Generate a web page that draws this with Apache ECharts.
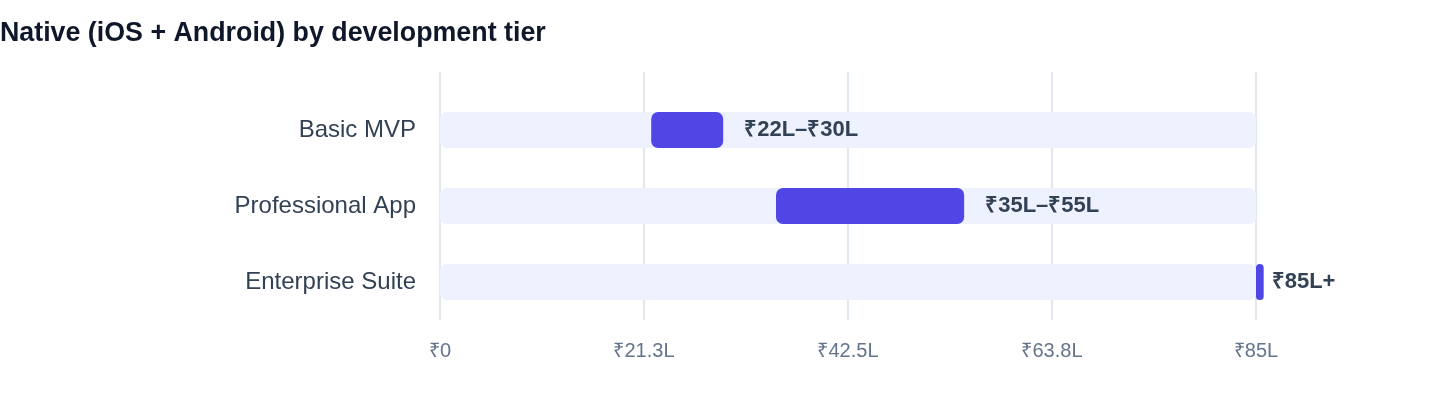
<!DOCTYPE html>
<html>
<head>
<meta charset="utf-8">
<script src="https://cdn.jsdelivr.net/npm/echarts@6/dist/echarts.min.js"></script>
<style>
  html, body { margin: 0; padding: 0; background: #fff; }
  #main { width: 1440px; height: 408px; }
</style>
</head>
<body>
<div id="main"></div>
<script>
var tiers = ['Basic MVP', 'Professional App', 'Enterprise Suite'];
var rangeLow = [22, 35, 85];
var rangeHigh = [29.5, 54.6, 85.8];
var rangeLabels = ['₹22L–₹30L', '₹35L–₹55L', '₹85L+'];
var tickLabels = ['₹0', '₹21.3L', '₹42.5L', '₹63.8L', '₹85L'];

var FONT = '"Liberation Sans", Helvetica, Arial, sans-serif';
var myChart = echarts.init(document.getElementById('main'));

// visible part of each bar = high - low; the tiny enterprise sliver gets its label closer
var spans = rangeHigh.map(function (v, i) {
    var item = { value: +(v - rangeLow[i]).toFixed(2) };
    if (i === 2) item.label = { distance: 8 };
    return item;
});

var option = {
    animation: false,
    title: {
        text: 'Native (iOS + Android) by development tier',
        left: 0,
        top: 20,
        padding: 0,
        textStyle: { color: '#0f172a', fontSize: 26.8, fontWeight: 'bold', fontFamily: FONT }
    },
    grid: [
        // grid lines + tick labels
        { left: 440, right: 184, top: 72, height: 248 },
        // bars
        { left: 440, right: 184, top: 92, height: 228 }
    ],
    xAxis: [
        {
            gridIndex: 0, type: 'value', min: 0, max: 85, interval: 21.25,
            axisLine: { show: false }, axisTick: { show: false },
            splitLine: { show: true, lineStyle: { color: '#e2e8f0', width: 2 } },
            axisLabel: {
                color: '#64748b', fontSize: 20, fontFamily: FONT, margin: 21,
                formatter: function (v) { return tickLabels[Math.round(v / 21.25)]; }
            }
        },
        {
            gridIndex: 1, type: 'value', min: 0, max: 85, show: false
        }
    ],
    yAxis: [
        { gridIndex: 0, type: 'category', data: tiers, show: false },
        {
            gridIndex: 1, type: 'category', data: tiers, inverse: true,
            axisLine: { show: false }, axisTick: { show: false },
            axisLabel: { color: '#334155', fontSize: 24, fontFamily: FONT, margin: 24 }
        }
    ],
    series: [
        {
            type: 'bar', xAxisIndex: 1, yAxisIndex: 1, stack: 'range',
            barWidth: 36, data: rangeLow, silent: true,
            itemStyle: { color: 'transparent' },
            showBackground: true,
            backgroundStyle: { color: '#eef2ff', borderRadius: 7 }
        },
        {
            type: 'bar', xAxisIndex: 1, yAxisIndex: 1, stack: 'range',
            barWidth: 36, data: spans, clip: false,
            itemStyle: { color: '#4f46e5', borderRadius: 7 },
            label: {
                show: true, position: 'right', distance: 21,
                color: '#334155', fontSize: 22, fontWeight: 'bold', fontFamily: FONT,
                formatter: function (p) { return rangeLabels[p.dataIndex]; }
            }
        }
    ]
};
myChart.setOption(option);
</script>
</body>
</html>
